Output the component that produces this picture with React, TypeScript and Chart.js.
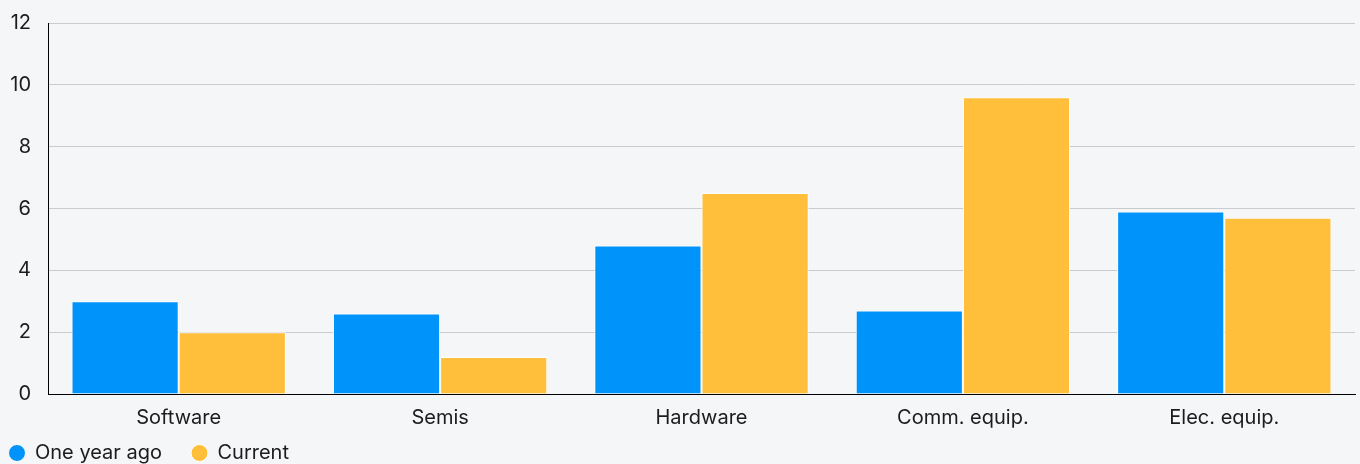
import React, { useEffect, useRef } from "react";
import { Chart, registerables } from "chart.js";

Chart.register(...registerables);

const categories = ["Software", "Semis", "Hardware", "Comm. equip.", "Elec. equip."];
const oneYearAgo = [3.0, 2.6, 4.8, 2.7, 5.9];
const current = [2.0, 1.2, 6.5, 9.6, 5.7];
const seriesNames = ["One year ago", "Current"];
const yTicksMax = 12;
const yStep = 2;

const FONT = "Inter";
const TEXT = "#1c1c1c";

const bgPlugin = {
  id: "bg",
  beforeDraw(chart: any) {
    const ctx = chart.ctx;
    ctx.save();
    ctx.fillStyle = "#f5f6f8";
    ctx.fillRect(0, 0, chart.width, chart.height);
    ctx.restore();
  },
};

export default function App() {
  const ref = useRef<HTMLCanvasElement>(null);
  useEffect(() => {
    document.body.style.margin = "0";
    document.body.style.background = "#f5f6f8";
    const chart = new Chart(ref.current!, {
      type: "bar",
      data: {
        labels: categories,
        datasets: [
          {
            label: seriesNames[0],
            data: oneYearAgo,
            backgroundColor: "#0093f9",
            borderColor: "#ffffff",
            borderWidth: 1,
          },
          {
            label: seriesNames[1],
            data: current,
            backgroundColor: "#ffbf3b",
            borderColor: "#ffffff",
            borderWidth: 1,
          },
        ],
      },
      options: {
        animation: false,
        responsive: false,
        maintainAspectRatio: false,
        layout: { padding: { top: 0, right: 5, left: 0, bottom: 0 } },
        datasets: { bar: { categoryPercentage: 0.82, barPercentage: 1 } },
        plugins: {
          legend: {
            position: "bottom",
            align: "start",
            labels: {
              usePointStyle: true,
              pointStyle: "circle",
              boxWidth: 16,
              boxHeight: 12,
              padding: 9,
              color: TEXT,
              font: { family: FONT, size: 20 },
              generateLabels(c: any) {
                const items = Chart.defaults.plugins.legend.labels.generateLabels(c);
                return items.map((it: any) => ({ ...it, text: it.text + "   \u2009" }));
              },
            },
          },
          tooltip: { enabled: false },
        },
        scales: {
          x: {
            grid: { display: false },
            border: { display: true, color: "#000", width: 1 },
            ticks: { color: TEXT, font: { family: FONT, size: 20 }, padding: 4 },
          },
          y: {
            min: 0,
            max: yTicksMax,
            afterFit(scale: any) {
              scale.width = 48;
              scale.paddingTop = 23;
              scale.paddingBottom = 12;
            },
            ticks: { stepSize: yStep, color: TEXT, font: { family: FONT, size: 20 }, padding: 17 },
            grid: { color: "#c9cbcf", drawTicks: false },
            border: { display: true, color: "#000", width: 1 },
          },
        },
      },
      plugins: [bgPlugin],
    });
    return () => chart.destroy();
  }, []);
  return (
    <div style={{ position: "fixed", left: 0, top: 0, width: 1360, height: 464, overflow: "hidden", background: "#f5f6f8" }}>
      <canvas ref={ref} width={1360} height={473} style={{ width: 1360, height: 473, display: "block" }} />
    </div>
  );
}
